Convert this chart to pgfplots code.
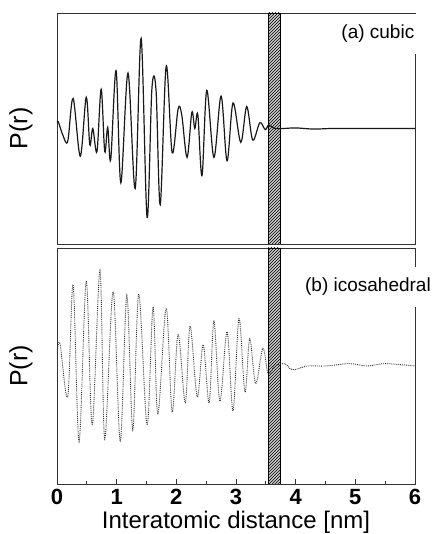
\documentclass[border=0pt]{standalone}
\usepackage{pgfplots}
\pgfplotsset{compat=1.18}
\usepackage{fontspec}
\setmainfont{Liberation Sans}
\usetikzlibrary{patterns}
\begin{document}
\begin{tikzpicture}
\useasboundingbox (-57pt,-50pt) rectangle (377pt,484pt);
\pgfplotsset{
  myax/.style={
    scale only axis, width=358pt,
    xmin=0, xmax=6, ymin=-1, ymax=1,
    ytick=\empty,
    axis line style={line width=0.9pt, black!80},
    y label style={at={(axis description cs:-0.1006,0.5)}, anchor=center, font=\fontsize{25}{27}\selectfont},
    ylabel={P(r)},
  }
}
% top panel
\begin{axis}[myax, name=top, at={(0,240pt)}, anchor=south west, height=231pt,
  xtick=\empty]
\addplot[draw=black, line width=0.8pt, fill=black!20, postaction={pattern=north east lines}]
  coordinates {(3.54,-1) (3.54,1) (3.74,1) (3.74,-1)} -- cycle;
\addplot[black!90, line width=1.2pt, smooth, tension=0.55] coordinates {
(0.00,0.05) (0.02,0.06) (0.10,-0.06) (0.18,-0.11) (0.27,0.26) (0.39,-0.24)
(0.49,0.27) (0.55,-0.14) (0.60,0.00) (0.67,-0.20) (0.74,0.34) (0.80,-0.20)
(0.85,0.01) (0.90,-0.27) (0.99,0.50) (1.07,-0.47) (1.19,0.48) (1.31,-0.52)
(1.41,0.78) (1.51,-0.77) (1.59,0.34) (1.66,0.33) (1.73,-0.66) (1.83,0.54)
(1.93,-0.21) (2.03,0.17) (2.09,0.12) (2.18,-0.25) (2.26,0.14) (2.31,0.00)
(2.36,0.12) (2.43,-0.41) (2.51,0.33) (2.63,-0.25) (2.75,0.28) (2.85,-0.28)
(2.95,0.22) (3.08,-0.12) (3.18,0.19) (3.28,-0.10) (3.40,0.05) (3.49,-0.01)
(3.55,0.03) (3.65,0.00) (3.80,0.00) (4.00,0.005) (4.30,-0.005) (4.60,0.00)
(5.00,0.00) (5.50,0.00) (6.00,0.00)
};
\end{axis}
\node[fill=white, anchor=east, inner xsep=2pt, inner ysep=11pt, font=\fontsize{19}{21}\selectfont]
  at ([xshift=1.5pt,yshift=-21pt]top.north east) {(a) cubic};
% bottom panel
\begin{axis}[myax, name=bot, at={(0,0)}, anchor=south west, height=236pt,
  xtick={0,1,2,3,4,5,6}, minor xtick={0.5,1.5,2.5,3.5,4.5,5.5},
  xtick pos=bottom, tick align=inside,
  major tick length=5pt, minor tick length=3pt,
  tick style={line width=0.8pt, black!80},
  xticklabel style={anchor=center, yshift=-13pt, font=\fontsize{22}{24}\selectfont\bfseries},
  /pgf/number format/assume math mode=true,
  xlabel={Interatomic distance [nm]},
  x label style={at={(axis description cs:0.5,0)}, anchor=center, yshift=-38pt, font=\fontsize{24}{26}\selectfont},
  ]
\addplot[draw=black, line width=0.8pt, fill=black!20, postaction={pattern=north east lines}]
  coordinates {(3.54,-1) (3.54,1) (3.74,1) (3.74,-1)} -- cycle;
\addplot[black!80, line width=0.9pt, densely dotted, smooth, tension=0.55] coordinates {
(0.00,0.10) (0.05,0.19) (0.18,-0.26) (0.27,0.69) (0.37,-0.64) (0.49,0.72)
(0.59,-0.50) (0.72,0.81) (0.80,-0.62) (0.94,0.63) (1.06,-0.64) (1.17,0.60)
(1.27,-0.54) (1.37,0.61) (1.51,-0.50) (1.61,0.50) (1.69,-0.41) (1.83,0.49)
(1.93,-0.39) (2.03,0.27) (2.15,-0.31) (2.23,0.34) (2.35,-0.26) (2.45,0.18)
(2.55,-0.31) (2.63,0.38) (2.73,-0.30) (2.85,0.29) (2.95,-0.38) (3.05,0.40)
(3.15,-0.22) (3.23,0.23) (3.33,-0.15) (3.45,0.15) (3.54,-0.07) (3.65,0.00)
(3.82,0.02) (3.90,-0.02) (3.99,-0.03) (4.20,0.00) (4.50,0.00) (4.90,0.02)
(5.20,0.00) (5.50,0.02) (6.00,0.00)
};
\end{axis}
\node[fill=white, anchor=east, inner xsep=2pt, inner ysep=11pt, font=\fontsize{19}{21}\selectfont]
  at ([xshift=18pt,yshift=-39pt]bot.north east) {(b) icosahedral};
\end{tikzpicture}
\end{document}
